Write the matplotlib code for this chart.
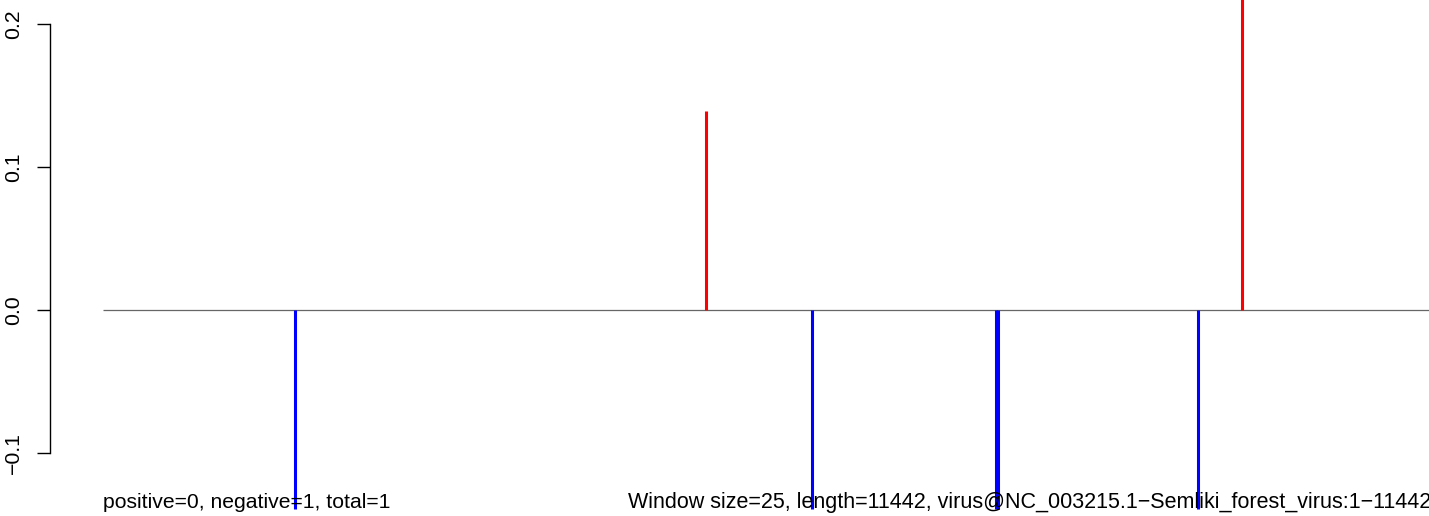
import matplotlib.pyplot as plt

# window scores
genome_length = 11442
pos_x = [5203, 9828]
pos_val = [0.139, 0.25]
neg_x = [1657, 6118, 7702, 7727, 9449]
neg_val = [-0.139, -0.139, -0.139, -0.139, -0.139]
y_ticks = [-0.1, 0.0, 0.1, 0.2]
y_labels = ["\u22120.1", "0.0", "0.1", "0.2"]

plt.rcParams["font.family"] = ["Liberation Sans", "DejaVu Sans"]

fig = plt.figure(figsize=(14.29, 5.16), dpi=100)
ax = fig.add_axes([0, 0, 1, 1])
ax.set_xlim(-888.8, genome_length)
ax.set_ylim(-0.1441, 0.2168)

ax.hlines(0, 0, genome_length, color="#666666", lw=0.9)
ax.vlines(pos_x, 0, pos_val, color="red", lw=2.2)
ax.vlines(neg_x, 0, neg_val, color="blue", lw=2.2)

for s in ["top", "right", "bottom"]:
    ax.spines[s].set_visible(False)
ax.spines["left"].set_position(("axes", 50 / 1429))
ax.spines["left"].set_bounds(-0.1, 0.2)
ax.spines["left"].set_linewidth(1.0)
ax.set_xticks([])
ax.set_yticks(y_ticks)
ax.set_yticklabels(y_labels, rotation=90, va="center", fontsize=15.3)
ax.tick_params(axis="y", length=9.4, width=1.0, pad=10.0)

ax.text(0, -0.1385, "positive=0, negative=1, total=1", fontsize=15.2, va="baseline", ha="left")
ax.text(628 / 1429, -0.1385,
        "Window size=25, length=11442, virus@NC_003215.1\u2212Semliki_forest_virus:1\u221211442",
        fontsize=15.5, va="baseline", ha="left", transform=ax.get_yaxis_transform())

fig.savefig("out.png", dpi=100)
